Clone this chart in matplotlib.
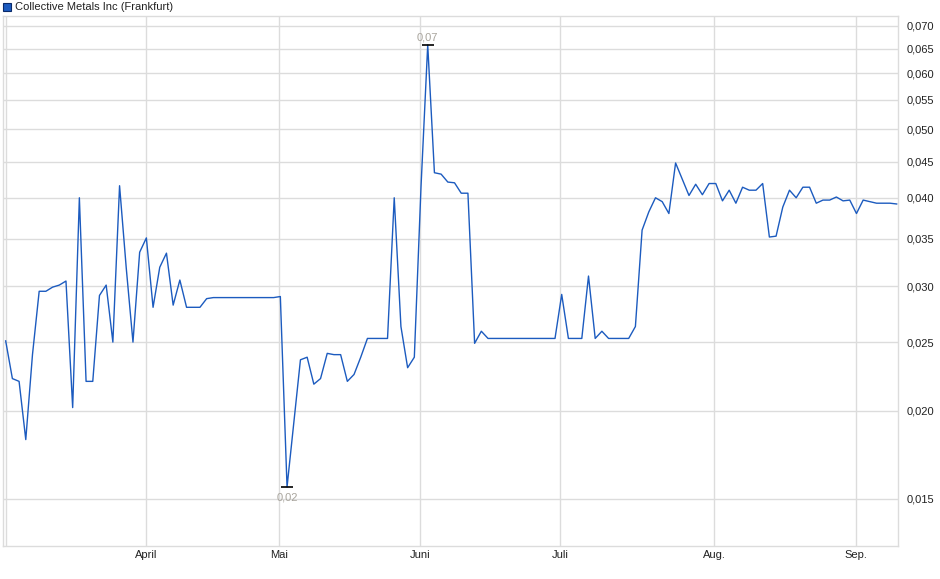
import matplotlib
matplotlib.use("Agg")
import matplotlib.pyplot as plt
import numpy as np
from matplotlib.patches import Rectangle
from matplotlib.ticker import FixedLocator, NullLocator

plt.rcParams["font.family"] = ["Liberation Sans", "DejaVu Sans"]

title = "Collective Metals Inc (Frankfurt)"

# closing prices per trading day
prices = [
    0.0251, 0.0222, 0.0220, 0.0182, 0.0240, 0.0295, 0.0295, 0.0299, 0.0301, 0.0305,
    0.0202, 0.0400, 0.0220, 0.0220, 0.0291, 0.0301, 0.0250, 0.0416, 0.0318, 0.0250,
    0.0335, 0.0351, 0.0280, 0.0319, 0.0334, 0.0282, 0.0306, 0.0280, 0.0280, 0.0280,
    0.0288, 0.0289, 0.0289, 0.0289, 0.0289, 0.0289, 0.0289, 0.0289, 0.0289, 0.0289,
    0.0289, 0.0290, 0.0156, 0.0192, 0.0236, 0.0238, 0.0218, 0.0222, 0.0241, 0.0240,
    0.0240, 0.0220, 0.0225, 0.0238, 0.0253, 0.0253, 0.0253, 0.0253, 0.0400, 0.0263,
    0.0230, 0.0238, 0.0415, 0.0658, 0.0434, 0.0432, 0.0421, 0.0420, 0.0406, 0.0406,
    0.0249, 0.0259, 0.0253, 0.0253, 0.0253, 0.0253, 0.0253, 0.0253, 0.0253, 0.0253,
    0.0253, 0.0253, 0.0253, 0.0292, 0.0253, 0.0253, 0.0253, 0.0310, 0.0253, 0.0259,
    0.0253, 0.0253, 0.0253, 0.0253, 0.0263, 0.0360, 0.0382, 0.0400, 0.0395, 0.0380,
    0.0448, 0.0425, 0.0403, 0.0418, 0.0404, 0.0419, 0.0419, 0.0396, 0.0410, 0.0393,
    0.0414, 0.0410, 0.0410, 0.0419, 0.0352, 0.0353, 0.0388, 0.0410, 0.0400, 0.0414,
    0.0414, 0.0393, 0.0397, 0.0397, 0.0401, 0.0396, 0.0397, 0.0380, 0.0397, 0.0395,
    0.0393, 0.0393, 0.0393, 0.0392,
]

month_labels = ["April", "Mai", "Juni", "Juli", "Aug.", "Sep."]
month_pos = [20.9, 40.8, 61.9, 82.8, 105.8, 126.9]

y_ticks = [0.015, 0.020, 0.025, 0.030, 0.035, 0.040, 0.045, 0.050, 0.055, 0.060, 0.065, 0.070]

line_color = "#1c5bbf"
grid_color = "#dcdcdc"

W, H = 940, 579
fig = plt.figure(figsize=(W / 100, H / 100), dpi=100)
ax = fig.add_axes([3 / W, 1 - 546 / H, 895 / W, 530 / H])

x = np.arange(len(prices))
ax.plot(x, prices, color=line_color, lw=1.0, zorder=3)

ax.set_yscale("log")
ax.set_ylim(0.01287, 0.0723)
ax.set_xlim(-0.4, 133.2)

ax.yaxis.set_major_locator(FixedLocator(y_ticks))
ax.yaxis.set_minor_locator(NullLocator())
ax.set_yticklabels([f"{v:.3f}".replace(".", ",") for v in y_ticks])
ax.yaxis.tick_right()

ax.xaxis.set_major_locator(FixedLocator(month_pos))
ax.xaxis.set_minor_locator(NullLocator())
ax.set_xticklabels(month_labels)

ax.tick_params(axis="both", length=0, labelsize=8, colors="#222222")
ax.tick_params(axis="y", pad=6)
ax.tick_params(axis="x", pad=3)

ax.grid(True, color=grid_color, lw=1.0, zorder=0)
ax.axvline(0, color=grid_color, lw=1.0, zorder=0)
for s in ax.spines.values():
    s.set_color(grid_color)
    s.set_linewidth(1.0)

# high / low markers
i_max = int(np.argmax(prices))
i_min = int(np.argmin(prices))
for i, off, va in [(i_max, 1.5, "bottom"), (i_min, -4, "top")]:
    v = prices[i]
    ax.plot([i], [v], marker="_", markersize=9, mew=1.2, color="black", zorder=4)
    ax.annotate(f"{v:.2f}".replace(".", ","), (i, v), xytext=(0, off),
                textcoords="offset points", ha="center", va=va,
                fontsize=8, color="#a8a49c")

# legend box at the top left
fig.patches.append(Rectangle((3 / W, 1 - 10.5 / H), 8 / W, 8 / H, transform=fig.transFigure,
                             facecolor=line_color, edgecolor="#0a2a6a", lw=0.8))
fig.text(15 / W, 1 - 6.5 / H, title, fontsize=8, color="#222222", va="center", ha="left")

fig.savefig("out.png", dpi=100)
